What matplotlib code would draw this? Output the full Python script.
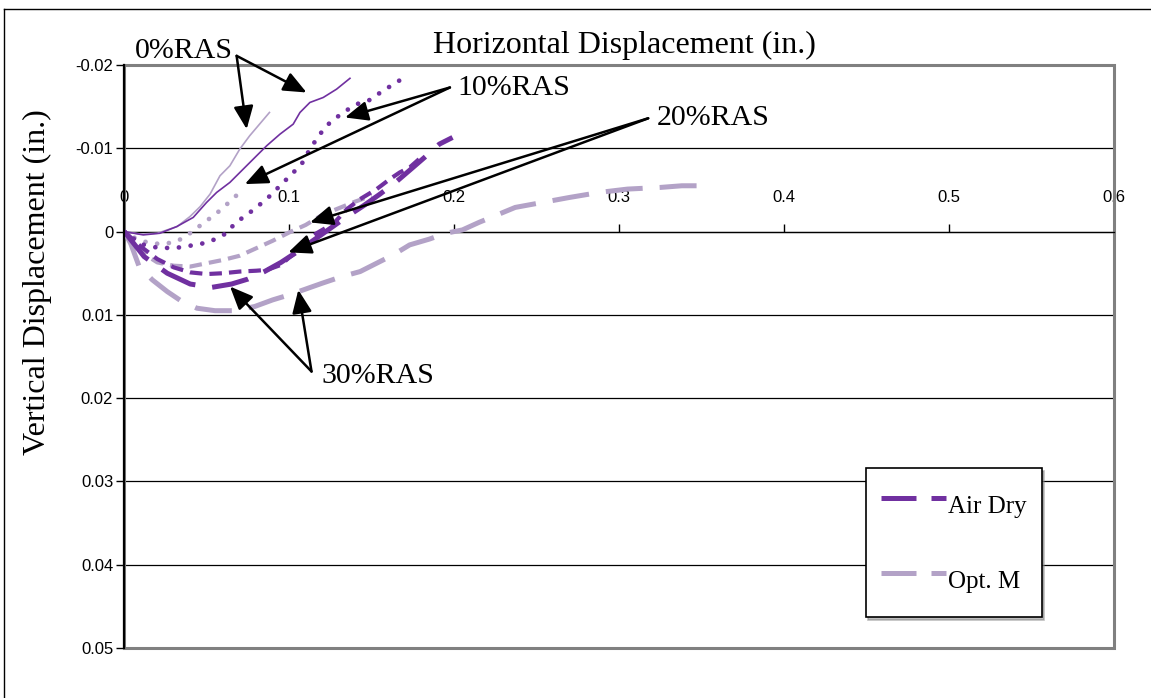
import numpy as np
import matplotlib
matplotlib.use("Agg")
import matplotlib.pyplot as plt
from matplotlib.lines import Line2D
from matplotlib.patches import Rectangle

DARK = "#7030a0"
LIGHT = "#b3a2c7"
SERIF = "Liberation Serif"

plt.rcParams.update({"font.family": "Liberation Sans", "font.size": 12})

# 0% RAS
x0_ad = [0, 0.0115, 0.0216, 0.0318, 0.0418, 0.0499, 0.056, 0.064, 0.0721, 0.0802, 0.0863,
         0.0944, 0.1024, 0.1065, 0.1125, 0.1206, 0.1287, 0.1368]
y0_ad = [0, 0.0004, 0.0002, -0.0006, -0.0017, -0.0035, -0.0047, -0.0059, -0.0075, -0.0091, -0.0103,
         -0.0117, -0.0129, -0.0143, -0.0155, -0.0161, -0.0171, -0.0184]
x0_om = [0, 0.01, 0.02, 0.032, 0.0398, 0.046, 0.052, 0.058, 0.064, 0.070, 0.076, 0.082, 0.088]
y0_om = [0, 0.0003, 0.0002, -0.0006, -0.0018, -0.003, -0.0045, -0.0067, -0.0079, -0.0099, -0.0115,
         -0.0129, -0.0143]

# 10% RAS
x10_ad = [0, 0.01, 0.0216, 0.0338, 0.0459, 0.052, 0.062, 0.0671, 0.0762, 0.0863, 0.0944, 0.1015,
          0.1075, 0.1125, 0.1186, 0.1247, 0.1327, 0.1408, 0.1479, 0.1568, 0.1681]
y10_ad = [0, 0.0015, 0.0020, 0.0019, 0.0015, 0.0012, 0.0002, -0.0010, -0.0023, -0.0039, -0.0055, -0.0069,
          -0.0081, -0.0099, -0.0117, -0.0131, -0.0143, -0.0153, -0.0157, -0.0169, -0.0183]
x10_om = [0, 0.0075, 0.0156, 0.0236, 0.0318, 0.0398, 0.0479, 0.056, 0.064, 0.0721]
y10_om = [0, 0.0009, 0.0014, 0.0015, 0.0012, 0.0002, -0.0010, -0.0022, -0.0036, -0.0051]

# 20% RAS
x20_ad = [0, 0.01, 0.02, 0.03, 0.04, 0.05, 0.06, 0.07, 0.08, 0.0865, 0.095, 0.1, 0.105, 0.11,
          0.1166, 0.127, 0.135, 0.143, 0.153, 0.161, 0.167, 0.173, 0.181]
y20_ad = [0, 0.0018, 0.0033, 0.0043, 0.0049, 0.0051, 0.0050, 0.0048, 0.0047, 0.0046, 0.0040, 0.0031,
          0.0024, 0.0013, 0.0002, -0.0010, -0.0027, -0.0039, -0.0051, -0.0063, -0.0071, -0.0077, -0.0091]
x20_om = [0, 0.006, 0.012, 0.02, 0.03, 0.04, 0.05, 0.06, 0.07, 0.08, 0.09, 0.1, 0.11, 0.12, 0.13,
          0.14, 0.15]
y20_om = [0, 0.0016, 0.0027, 0.0037, 0.0041, 0.0042, 0.0038, 0.0034, 0.0029, 0.0020, 0.0011, 0.0001,
          -0.0008, -0.0020, -0.0028, -0.0036, -0.0043]

# 30% RAS
x30_ad = [0, 0.012, 0.026, 0.04, 0.053, 0.065, 0.075, 0.085, 0.095, 0.105, 0.115, 0.125, 0.135,
          0.145, 0.155, 0.165, 0.175, 0.182, 0.191, 0.199]
y30_ad = [0, 0.0030, 0.0050, 0.0063, 0.0067, 0.0063, 0.0057, 0.0048, 0.0037, 0.0024, 0.0010, -0.0004,
          -0.0018, -0.0031, -0.0045, -0.0060, -0.0077, -0.0089, -0.0105, -0.0113]
x30_om = [0, 0.004, 0.009, 0.017, 0.026, 0.035, 0.044, 0.055, 0.066, 0.079, 0.09, 0.1, 0.11, 0.12,
          0.132, 0.143, 0.153, 0.163, 0.173, 0.185, 0.195, 0.205, 0.215, 0.226, 0.237, 0.259, 0.27,
          0.288, 0.305, 0.325, 0.338, 0.348]
y30_om = [0, 0.0015, 0.0042, 0.0058, 0.0072, 0.0084, 0.0092, 0.0095, 0.0095, 0.0090, 0.0082, 0.0076,
          0.0069, 0.0062, 0.0054, 0.0048, 0.0038, 0.0028, 0.0016, 0.0009, 0.0002, -0.0002, -0.0011,
          -0.0020, -0.0029, -0.0037, -0.0041, -0.0047, -0.0051, -0.0053, -0.0055, -0.0055]

x_ticks = [0, 0.1, 0.2, 0.3, 0.4, 0.5, 0.6]
y_ticks = [-0.02, -0.01, 0, 0.01, 0.02, 0.03, 0.04, 0.05]

# annotation labels: text anchor, arrow tail, arrow heads
ann_labels = ["0%RAS", "10%RAS", "20%RAS", "30%RAS"]
ann_text = [(0.0065, -0.0217), (0.2022, -0.01725), (0.3228, -0.01364), (0.1198, 0.01732)]
ann_tail = [(0.0681, -0.0211), (0.1974, -0.0173), (0.3176, -0.0136), (0.1135, 0.0168)]
ann_heads = [[(0.0742, -0.0123), (0.1105, -0.0167)],
             [(0.1338, -0.0137), (0.0731, -0.0057)],
             [(0.1126, -0.0011), (0.0994, 0.0025)],
             [(0.0641, 0.0066), (0.1055, 0.0070)]]

styles = {
    "solid": dict(lw=1.2, ls="-"),
    "dot": dict(lw=3.4, ls=(0, (0.01, 2.5)), dash_capstyle="round"),
    "dash": dict(lw=3.0, ls=(0, (3, 1.7))),
    "long": dict(lw=3.6, ls=(0, (7.4, 3.4))),
}

series = [
    (x0_om, y0_om, LIGHT, "solid"), (x0_ad, y0_ad, DARK, "solid"),
    (x10_om, y10_om, LIGHT, "dot"), (x10_ad, y10_ad, DARK, "dot"),
    (x20_om, y20_om, LIGHT, "dash"), (x20_ad, y20_ad, DARK, "dash"),
    (x30_om, y30_om, LIGHT, "long"), (x30_ad, y30_ad, DARK, "long"),
]

W, H = 1151, 698
fig = plt.figure(figsize=(W / 100, H / 100), dpi=100)
ax = fig.add_axes([124.3 / W, 1 - 648 / H, 989.7 / W, 583 / H])

for xs, ys, c, st in series:
    ax.plot(xs, ys, color=c, zorder=3, **styles[st])

ax.set_xlim(0, 0.6)
ax.set_ylim(0.05, -0.02)
ax.set_xticks(x_ticks)
ax.set_yticks(y_ticks)
ax.set_xticklabels([f"{v:g}" for v in x_ticks])
ax.set_yticklabels([f"{v:g}" for v in y_ticks])

ax.grid(axis="y", color="black", lw=0.9)
ax.set_axisbelow(True)

# x axis sits on y = 0, labels above it
ax.spines["top"].set_position(("data", 0))
ax.spines["top"].set_linewidth(0.9)
ax.xaxis.set_ticks_position("top")
ax.tick_params(axis="x", direction="out", length=6, width=1, pad=13, labelsize=12)
ax.tick_params(axis="y", direction="out", length=6, width=1, pad=2, labelsize=12)
ax.spines["left"].set_linewidth(1.6)
ax.spines["left"].set_zorder(4)
ax.spines["bottom"].set_visible(False)
ax.spines["right"].set_visible(False)
ax.add_patch(Rectangle((0, 0), 1, 1, transform=ax.transAxes, fill=False,
                       edgecolor="#808080", lw=2.2, clip_on=False, zorder=2))

fig.text(624 / W, 1 - 45 / H, "Horizontal Displacement (in.)", family=SERIF, fontsize=23,
         ha="center", va="center")
fig.text(37 / W, 1 - 282 / H, "Vertical Displacement (in.)", family=SERIF, fontsize=23,
         ha="center", va="center", rotation=90)

for lab, tp, tail, heads in zip(ann_labels, ann_text, ann_tail, ann_heads):
    ax.text(tp[0], tp[1], lab, family=SERIF, fontsize=21.5, ha="left", va="center")
    for hd in heads:
        ax.annotate("", xy=hd, xytext=tail, annotation_clip=False,
                    arrowprops=dict(arrowstyle="-|>,head_length=0.7,head_width=0.3",
                                    mutation_scale=20, color="black", lw=1.8,
                                    shrinkA=0, shrinkB=0))

leg_ls = (0, (7, 3, 3, 3))
handles = [Line2D([], [], color=DARK, lw=3.6, ls=leg_ls),
           Line2D([], [], color=LIGHT, lw=3.6, ls=leg_ls)]
leg = ax.legend(handles, ["Air Dry", "Opt. M"], loc="upper left",
                bbox_to_anchor=(0.749, 0.3087), borderaxespad=0, frameon=True,
                fancybox=False, shadow={"color": "0.5", "alpha": 0.5},
                prop={"family": SERIF, "size": 18}, handlelength=2.6, handletextpad=0.1,
                handleheight=2.3, labelspacing=1.28, borderpad=0.6)
leg.get_frame().set_edgecolor("black")
leg.get_frame().set_linewidth(1.2)

# outer chart border
fig.add_artist(Line2D([4 / W, 4 / W], [0, 1 - 9 / H], transform=fig.transFigure, color="black", lw=1))
fig.add_artist(Line2D([4 / W, 1], [1 - 9 / H, 1 - 9 / H], transform=fig.transFigure, color="black", lw=1))

fig.savefig("out.png", dpi=100)
